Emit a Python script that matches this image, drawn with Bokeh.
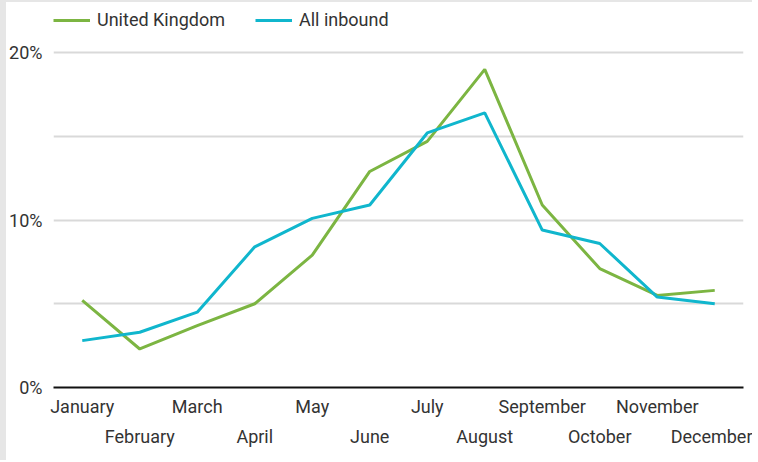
from bokeh.plotting import figure
from bokeh.models import (ColumnDataSource, FixedTicker, LinearAxis, Legend,
                          LegendItem, NumeralTickFormatter, Range1d)
from bokeh.embed import file_html
from bokeh.resources import INLINE

# Monthly share of annual arrivals (%)
months = ["January", "February", "March", "April", "May", "June",
          "July", "August", "September", "October", "November", "December"]
united_kingdom = [5.2, 2.3, 3.7, 5.0, 7.9, 12.9, 14.7, 19.0, 10.9, 7.1, 5.5, 5.8]
all_inbound = [2.8, 3.3, 4.5, 8.4, 10.1, 10.9, 15.2, 16.4, 9.4, 8.6, 5.4, 5.0]
y_ticks = [0, 10, 20]
grid_ticks = [5, 10, 15, 20]

GREEN = "#7cb542"
CYAN = "#10b6cd"
FONT = "Roboto"
TEXT = "#333333"

idx = list(range(len(months)))
src = ColumnDataSource(dict(x=idx, uk=[v / 100 for v in united_kingdom],
                            inb=[v / 100 for v in all_inbound]))

p = figure(width=752, height=460, output_backend="svg", toolbar_location=None,
           x_range=Range1d(-0.5, len(months) - 0.5),
           y_range=Range1d(0, 0.2299),
           x_axis_location=None, min_border_left=47, min_border_right=15,
           min_border_top=0, min_border_bottom=75)
p.styles = {"border-left": "6px solid #e6e6e6", "border-top": "2px solid #e6e6e6"}
p.outline_line_color = None
p.background_fill_color = "white"
p.border_fill_color = "white"

# y axis: percentage labels, no axis line
p.yaxis.ticker = FixedTicker(ticks=[t / 100 for t in y_ticks])
p.yaxis.formatter = NumeralTickFormatter(format="0%")
p.yaxis.axis_line_color = None
p.yaxis.major_tick_line_color = None
p.yaxis.major_tick_out = 0
p.yaxis.major_tick_in = 0
p.yaxis.minor_tick_line_color = None
p.yaxis.minor_tick_out = 0
p.yaxis.major_label_standoff = 11
p.yaxis.major_label_text_font = FONT
p.yaxis.major_label_text_font_size = "18px"
p.yaxis.major_label_text_color = TEXT

p.xgrid.visible = False
p.ygrid.ticker = FixedTicker(ticks=[t / 100 for t in grid_ticks])
p.ygrid.grid_line_color = "#d9d9d9"
p.ygrid.grid_line_width = 2

# two staggered month axes
odd = [i for i in idx if i % 2 == 0]
even = [i for i in idx if i % 2 == 1]
ax1 = LinearAxis(ticker=FixedTicker(ticks=odd),
                 major_label_overrides={i: months[i] for i in odd})
ax2 = LinearAxis(ticker=FixedTicker(ticks=even),
                 major_label_overrides={i: months[i] for i in even})
for ax in (ax1, ax2):
    ax.major_tick_line_color = None
    ax.minor_tick_line_color = None
    ax.major_tick_out = 0
    ax.major_tick_in = 0
    ax.minor_tick_out = 0
    ax.major_label_text_font = FONT
    ax.major_label_text_font_size = "18px"
    ax.major_label_text_color = TEXT
ax1.axis_line_color = "#111111"
ax1.axis_line_width = 2
ax1.major_label_standoff = 8
ax2.axis_line_color = None
ax2.major_label_standoff = 6
p.add_layout(ax1, "below")
p.add_layout(ax2, "below")

r_uk = p.line("x", "uk", source=src, line_color=GREEN, line_width=3)
r_in = p.line("x", "inb", source=src, line_color=CYAN, line_width=3)

legend = Legend(items=[LegendItem(label="United Kingdom", renderers=[r_uk]),
                       LegendItem(label="All inbound", renderers=[r_in])],
                orientation="horizontal", location=(0, 357),
                glyph_width=37, glyph_height=20, label_standoff=7, spacing=30,
                padding=0, margin=0, border_line_color=None,
                background_fill_alpha=0,
                label_text_font=FONT, label_text_font_size="18px",
                label_text_color=TEXT)
p.add_layout(legend)

open("out.html", "w").write(file_html(p, INLINE))
